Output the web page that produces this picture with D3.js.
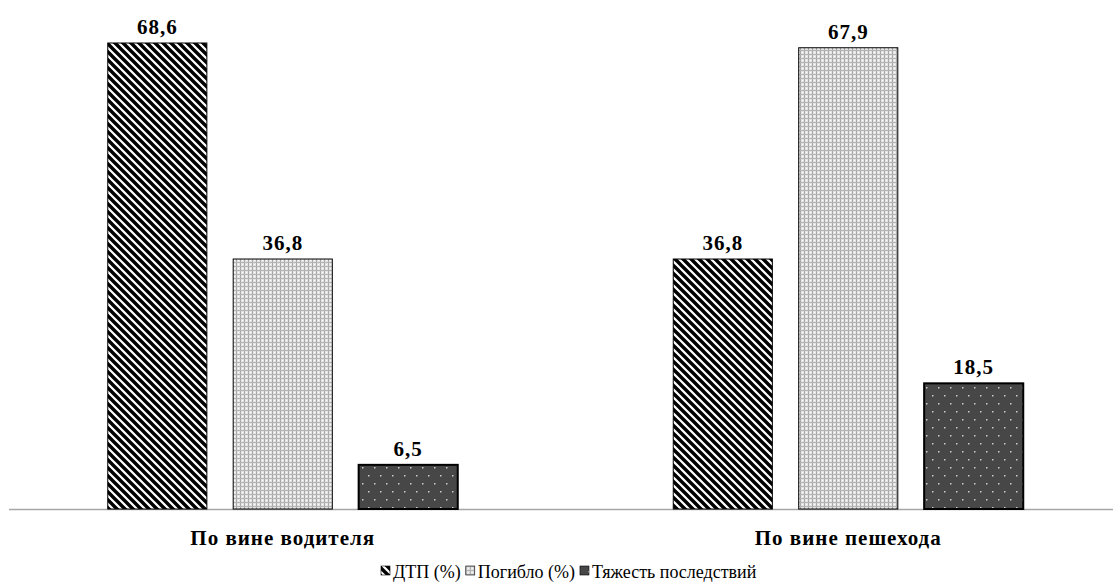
<!DOCTYPE html>
<html>
<head>
<meta charset="utf-8">
<script src="https://cdn.jsdelivr.net/npm/d3@7"></script>
<style>
  body { margin: 0; background: #fff; }
</style>
</head>
<body>
<script>
var categories = ["По вине водителя", "По вине пешехода"];
var seriesNames = ["ДТП (%)", "Погибло (%)", "Тяжесть последствий"];
var dtp = [68.6, 36.8];
var pogiblo = [36.8, 67.9];
var tyazhest = [6.5, 18.5];

var width = 1115, height = 584;
var baseY = 509;
var serif = "'Liberation Serif', 'Times New Roman', 'DejaVu Serif', serif";

var svg = d3.select("body").append("svg")
    .attr("width", width)
    .attr("height", height)
    .style("font-family", serif);

var defs = svg.append("defs");

// wide downward diagonal
var p1 = defs.append("pattern").attr("id", "pat0")
    .attr("patternUnits", "userSpaceOnUse")
    .attr("width", 8).attr("height", 8);
p1.append("rect").attr("width", 8).attr("height", 8).attr("fill", "#fff");
p1.append("path")
    .attr("d", "M-2,-2 L10,10 M-10,-2 L2,10 M6,-2 L18,10")
    .attr("stroke", "#000").attr("stroke-width", 3.4);

// light dotted grid
var p2 = defs.append("pattern").attr("id", "pat1")
    .attr("patternUnits", "userSpaceOnUse")
    .attr("width", 4).attr("height", 4);
p2.append("rect").attr("width", 4).attr("height", 4).attr("fill", "#e4e4e4");
p2.append("rect").attr("x", 0).attr("y", 0).attr("width", 1).attr("height", 4).attr("fill", "#a8a8a8");
p2.append("rect").attr("x", 0).attr("y", 2).attr("width", 4).attr("height", 1).attr("fill", "#b4b4b4");
p2.append("rect").attr("x", 2).attr("y", 0).attr("width", 1).attr("height", 1).attr("fill", "#fff");

// dark with dots
var p3 = defs.append("pattern").attr("id", "pat2")
    .attr("patternUnits", "userSpaceOnUse")
    .attr("width", 12).attr("height", 16);
p3.append("rect").attr("width", 12).attr("height", 16).attr("fill", "#474747");
p3.append("rect").attr("x", 2).attr("y", 3).attr("width", 1.5).attr("height", 1.5).attr("fill", "#ccc");
p3.append("rect").attr("x", 8).attr("y", 11).attr("width", 1.5).attr("height", 1.5).attr("fill", "#ccc");

var fills = ["url(#pat0)", "url(#pat1)", "url(#pat2)"];

var x0 = d3.scaleBand().domain(categories).range([0, 1131]);
var x1 = d3.scaleBand().domain(seriesNames).range([-175, 175]).paddingInner(0.21);
var y = d3.scaleLinear().domain([0, 68.6]).range([baseY, 43]);

var rows = [];
categories.forEach(function (c, i) {
    [dtp, pogiblo, tyazhest].forEach(function (arr, j) {
        rows.push({ cat: c, series: seriesNames[j], idx: j, value: arr[i] });
    });
});

// axis line
svg.append("line")
    .attr("x1", 9).attr("x2", 1113)
    .attr("y1", baseY + 0.5).attr("y2", baseY + 0.5)
    .attr("stroke", "#a6a6a6").attr("stroke-width", 1.5);

svg.selectAll(".bar")
    .data(rows)
    .enter().append("rect")
    .attr("class", "bar")
    .attr("x", function (d) { return x0(d.cat) + x0.bandwidth() / 2 + x1(d.series); })
    .attr("y", function (d) { return y(d.value); })
    .attr("width", x1.bandwidth())
    .attr("height", function (d) { return baseY - y(d.value); })
    .attr("fill", function (d) { return fills[d.idx]; })
    .attr("stroke", "#000")
    .attr("stroke-width", function (d) { return d.idx == 2 ? 2 : 1; });

svg.selectAll(".lbl")
    .data(rows)
    .enter().append("text")
    .attr("class", "lbl")
    .attr("x", function (d) { return x0(d.cat) + x0.bandwidth() / 2 + x1(d.series) + x1.bandwidth() / 2; })
    .attr("y", function (d) { return y(d.value) - 9; })
    .attr("text-anchor", "middle")
    .attr("font-family", serif)
    .attr("font-size", 21)
    .attr("font-weight", "bold")
    .attr("letter-spacing", 1)
    .text(function (d) { return d3.format(".1f")(d.value).replace(".", ","); });

svg.selectAll(".cat")
    .data(categories)
    .enter().append("text")
    .attr("class", "cat")
    .attr("x", function (d) { return x0(d) + x0.bandwidth() / 2; })
    .attr("y", 545)
    .attr("text-anchor", "middle")
    .attr("font-family", serif)
    .attr("font-size", 21)
    .attr("font-weight", "bold")
    .attr("letter-spacing", 1)
    .text(function (d) { return d; });

// legend
var legend = svg.append("g");
var lx = 381;
seriesNames.forEach(function (s, i) {
    var g = legend.append("g").attr("transform", "translate(" + lx + ",0)");
    g.append("rect")
        .attr("x", 0).attr("y", 566)
        .attr("width", 9).attr("height", 9)
        .attr("fill", fills[i])
        .attr("stroke", "#000").attr("stroke-width", 0.6);
    var t = g.append("text")
        .attr("x", 12).attr("y", 578)
        .attr("font-family", serif)
        .attr("font-size", 18)
        .text(s);
    lx += 12 + t.node().getComputedTextLength() + 5;
});
</script>
</body>
</html>
